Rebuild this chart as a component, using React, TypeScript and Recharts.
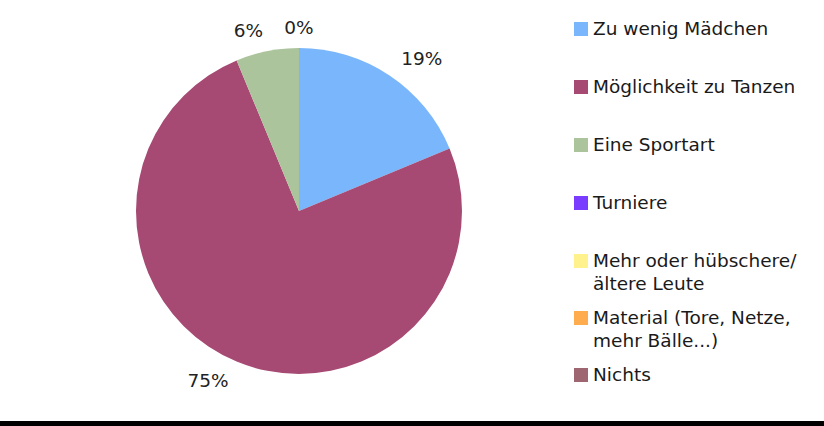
import { PieChart, Pie, Cell, Legend } from 'recharts';

const CATEGORIES = [
  'Zu wenig Mädchen',
  'Möglichkeit zu Tanzen',
  'Eine Sportart',
  'Turniere',
  'Mehr oder hübschere/ ältere Leute',
  'Material (Tore, Netze, mehr Bälle...)',
  'Nichts',
];

const VALUES = [3, 12, 1, 0, 0, 0, 0];

const COLORS = ['#7ab6fb', '#a64973', '#abc49b', '#7a3cff', '#fff28c', '#ffac4e', '#9d6670'];

const data = CATEGORIES.map((name, i) => ({ name, value: VALUES[i] }));

const FONT = '"DejaVu Sans", Verdana, sans-serif';
const RAD = Math.PI / 180;

const renderLabel = (props: any) => {
  const { cx, cy, midAngle, outerRadius, percent, index } = props;
  // zero slices all sit at the same spot, print only the first one
  if (VALUES[index] === 0 && index > 0 && VALUES[index - 1] === 0) return null;
  const r = outerRadius + 21;
  const dx = r * Math.cos(-midAngle * RAD);
  const dy = r * Math.sin(-midAngle * RAD);
  const anchor = dx > 1 ? 'start' : dx < -1 ? 'end' : 'middle';
  return (
    <text
      x={cx + dx}
      y={cy + dy}
      textAnchor={anchor}
      dominantBaseline="central"
      fill="#222"
      style={{ fontFamily: FONT, fontSize: 18.5 }}
    >
      {`${Math.round(percent * 100)}%`}
    </text>
  );
};

const renderLegend = () => (
  <div style={{ fontFamily: FONT, fontSize: 18.5, lineHeight: '23px', color: '#1a1a1a' }}>
    {CATEGORIES.map((name, i) => (
      <div
        key={name}
        style={{ display: 'flex', alignItems: 'flex-start', marginTop: i === 0 ? 0 : i <= 4 ? 35 : 11 }}
      >
        <span
          style={{
            display: 'inline-block',
            width: 14,
            height: 14,
            marginTop: 5,
            marginRight: 5,
            flex: '0 0 auto',
            background: COLORS[i],
          }}
        />
        <span style={{ maxWidth: 228 }}>{name}</span>
      </div>
    ))}
  </div>
);

export default function App() {
  return (
    <div style={{ width: 824, height: 426, background: '#fff' }}>
      <style>{'body{margin:0}'}</style>
      <PieChart width={824} height={421} margin={{ top: 0, right: 0, bottom: 0, left: 0 }}>
        <Pie
          data={data}
          dataKey="value"
          nameKey="name"
          cx={299}
          cy={211}
          outerRadius={163}
          startAngle={90}
          endAngle={-270}
          stroke="none"
          label={renderLabel}
          labelLine={false}
          isAnimationActive={false}
        >
          {data.map((_, i) => (
            <Cell key={`cell-${i}`} fill={COLORS[i]} />
          ))}
        </Pie>
        <Legend
          layout="vertical"
          align="right"
          verticalAlign="top"
          content={renderLegend}
          wrapperStyle={{ left: 574, top: 17, width: 250 }}
        />
      </PieChart>
      <div style={{ height: 5, background: '#000' }} />
    </div>
  );
}
